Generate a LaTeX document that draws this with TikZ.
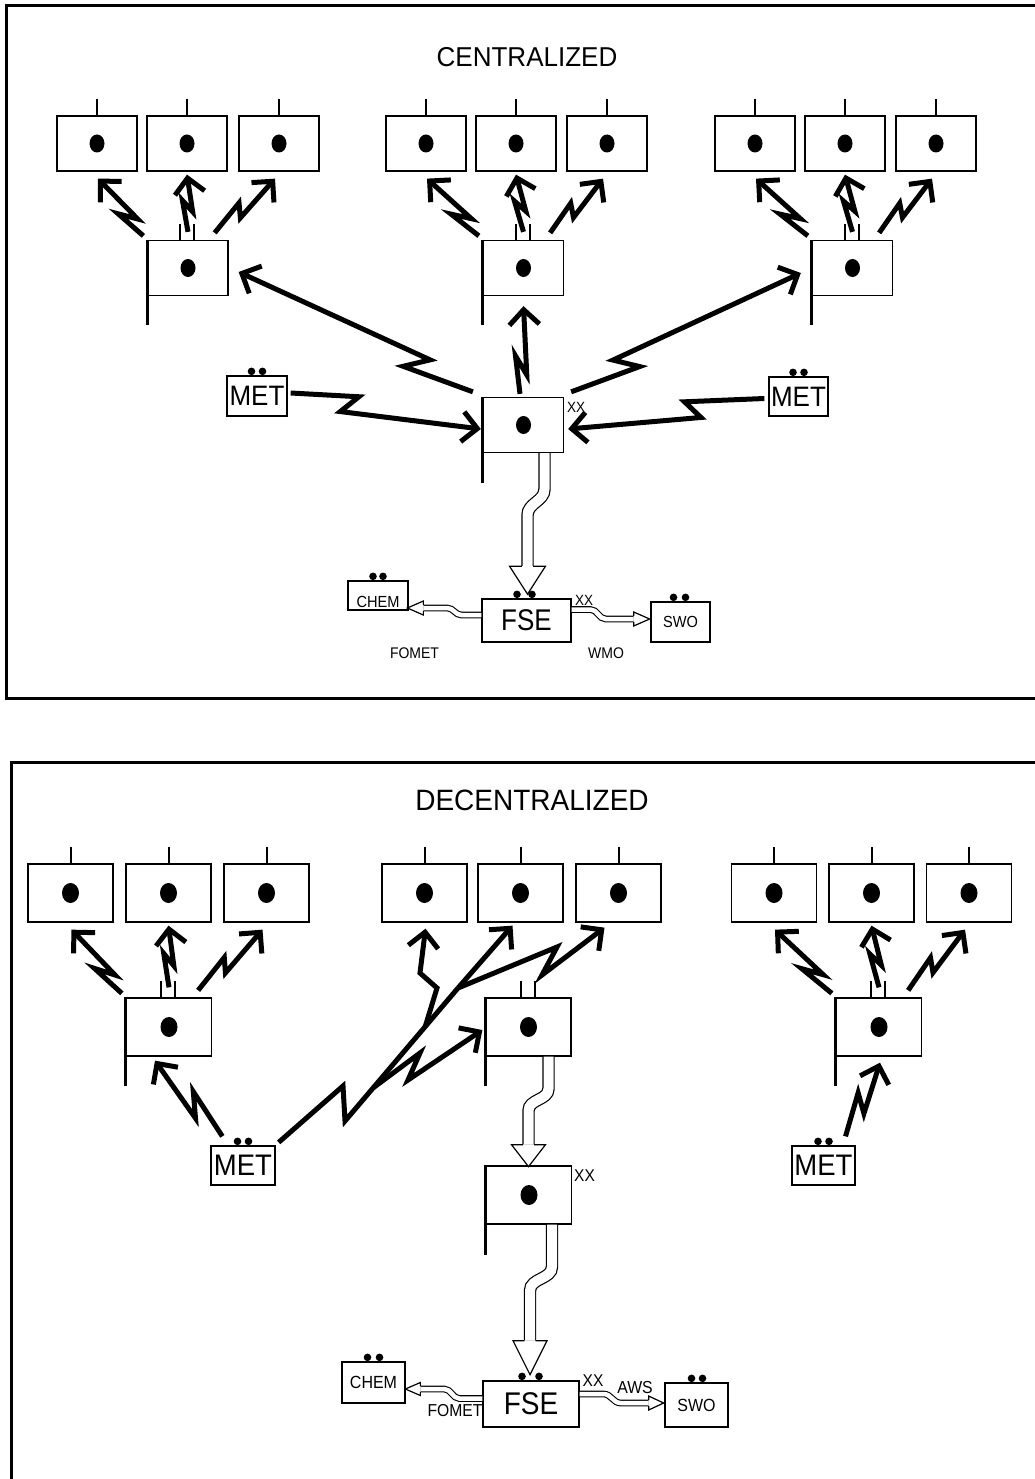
\documentclass[tikz,border=0pt]{standalone}
\usepackage{fontspec}
\setmainfont{Liberation Sans}
\usetikzlibrary{calc,arrows.meta}

% terminal: box, centre dot, antenna on top
\newcommand\term[6]{%
  \node[#4] (#1) at (#2,#3) {};
  \fill (#1.center) ellipse [x radius=#5pt, y radius=#6pt];
  \draw[antenna] (#1.north) -- ++(0,-16);}
% relay station: box, dot, flag pole on the left, two antennas
\newcommand\relay[6]{%
  \node[#4] (#1) at (#2,#3) {};
  \fill (#1.center) ellipse [x radius=#5pt, y radius=#6pt];
  \draw[flagbar] (#1.north west) -- ($(#1.south west)+(0,29)$);
  \draw[antenna] ($(#1.north)+(-8,0)$) -- ++(0,-16);
  \draw[antenna] ($(#1.north)+(6,0)$) -- ++(0,-16);}
% hub station: box, dot, flag pole
\newcommand\hubst[6]{%
  \node[#4] (#1) at (#2,#3) {};
  \fill (#1.center) ellipse [x radius=#5pt, y radius=#6pt];
  \draw[flagbar] (#1.north west) -- ($(#1.south west)+(0,30)$);}
% two small dots above a box
\newcommand\pairdots[3]{%
  \fill ($(#1.north)+(#2,-4)$) circle [radius=3.8pt];
  \fill ($(#1.north)+(#3,-4)$) circle [radius=3.8pt];}
% radio link drawn as a lightning arrow: start, end, t1, t2, kink offset
\newcommand\bolt[5]{%
  \coordinate (bS) at (#1);
  \coordinate (bE) at (#2);
  \draw[radio] (bS) -- ($(bS)!#3!(bE)!#5!90:(bE)$) -- ($(bS)!#4!(bE)!#5!-90:(bE)$) -- (bE);}
% one relay feeding its three terminals
\newcommand\fan[5]{%
  \bolt{$(#1.north west)+(-4,-4)$}{$(#2.south)+(1,7)$}{0.45}{0.23}{6pt}
  \bolt{$(#1.north)+(0,-#5)$}{$(#3.south)+(0,3)$}{0.55}{0.35}{5pt}
  \bolt{$(#1.north east)+(-14,-7)$}{$(#4.south)+(-4,7)$}{0.47}{0.36}{6pt}}
% hollow arrow heads at the end of a ribbon
\newcommand\headdown[3]{%
  \draw[hollowhead] ($(#1)+(-5.6,0)$) -- ($(#1)+(-#2,0)$) -- ($(#1)+(0,#3)$)
    -- ($(#1)+(#2,0)$) -- ($(#1)+(5.6,0)$);}
\newcommand\headleft[3]{%
  \draw[hollowhead] ($(#1)+(0,-2.8)$) -- ($(#1)+(0,-#2)$) -- ($(#1)+(-#3,0)$)
    -- ($(#1)+(0,#2)$) -- ($(#1)+(0,2.8)$);}
\newcommand\headright[3]{%
  \draw[hollowhead] ($(#1)+(0,-2.8)$) -- ($(#1)+(0,-#2)$) -- ($(#1)+(#3,0)$)
    -- ($(#1)+(0,#2)$) -- ($(#1)+(0,2.8)$);}
% tall lettering
\newcommand\tall[2]{\scalebox{1}[#1]{#2}}

\begin{document}
\begin{tikzpicture}[x=1pt,y=-1pt,
  box/.style={draw,line width=1.3pt,inner sep=0pt},
  tbox/.style={box,minimum width=80pt,minimum height=55pt},
  ubox/.style={box,minimum width=85pt,minimum height=58pt},
  antenna/.style={line width=2pt},
  flagbar/.style={line width=3pt},
  radio/.style={line width=5pt,-{Straight Barb[length=15pt,width=30pt]}},
  link/.style={line width=5pt},
  ribbon/.style={line width=1.2pt,double=white,double distance=10pt},
  slimribbon/.style={line width=1.1pt,double=white,double distance=4.5pt},
  hollowhead/.style={line width=1.2pt,fill=white,line join=miter},
  frame/.style={line width=3pt},
  big/.style={font=\fontsize{#1}{#1}\selectfont,inner sep=0pt},
]
\useasboundingbox (0,0) rectangle (1035,1479);
\fill[white] (0,0) rectangle (1035,1479);

% ---------------- centralized ----------------
\draw[frame] (1045,6) -- (6,6) -- (6,698) -- (1045,698);
\node[big=26] (ttl1) at (527,57) {\tall{1.05}{CENTRALIZED}};

\term{t1}{97}{143.5}{tbox}{7.5}{9}
\term{t2}{187}{143.5}{tbox}{7.5}{9}
\term{t3}{279}{143.5}{tbox}{7.5}{9}
\term{t4}{426}{143.5}{tbox}{7.5}{9}
\term{t5}{516}{143.5}{tbox}{7.5}{9}
\term{t6}{607}{143.5}{tbox}{7.5}{9}
\term{t7}{755}{143.5}{tbox}{7.5}{9}
\term{t8}{845}{143.5}{tbox}{7.5}{9}
\term{t9}{936}{143.5}{tbox}{7.5}{9}

\relay{r1}{188}{268}{tbox}{7.5}{9}
\relay{r2}{523.5}{268}{tbox}{7.5}{9}
\relay{r3}{852.5}{268}{tbox}{7.5}{9}

\hubst{hub}{523.5}{425}{tbox}{7.5}{9}
\node[big=13.5] (hubxx) at (576,407.5) {\tall{1.1}{XX}};

\node[box,minimum width=60pt,minimum height=40pt,big=26] (metL) at (257,396) {\tall{1.08}{MET}};
\pairdots{metL}{-5.5}{5.5}
\node[box,minimum width=59pt,minimum height=39pt,big=26] (metR) at (798.5,396.5) {\tall{1.08}{MET}};
\pairdots{metR}{-5.5}{5.5}

\fan{r1}{t1}{t2}{t3}{8}
\fan{r2}{t4}{t5}{t6}{8}
\fan{r3}{t7}{t8}{t9}{8}

\bolt{$(hub.north west)+(-10,-5)$}{$(r1.east)+(10,4)$}{0.28}{0.2}{9pt}
\bolt{$(hub.north)+(-3.5,-3)$}{$(r2.south)+(0,10)$}{0.43}{0.22}{6pt}
\bolt{$(hub.north east)+(7,-5)$}{$(r3.west)+(-11,5)$}{0.28}{0.2}{-9pt}
\bolt{$(metL.east)+(3,-3)$}{$(hub.west)+(-2,4)$}{0.35}{0.27}{9pt}
\bolt{$(metR.west)+(-4,2)$}{$(hub.east)+(4,4)$}{0.4}{0.33}{-9pt}

\node[box,minimum width=89pt,minimum height=43pt,big=26] (fse) at (526.5,620.5) {\tall{1.15}{FSE}};
\pairdots{fse}{-9.5}{5.5}
\node[box,minimum width=60pt,minimum height=29pt] (chem) at (378,595.5) {};
\node[big=14.6] (chemtxt) at ($(chem.center)+(0,6.5)$) {\tall{1.1}{CHEM}};
\pairdots{chem}{-5}{5}
\node[box,minimum width=59pt,minimum height=40pt,big=14.6] (swo) at (680.5,622) {\tall{1.1}{SWO}};
\pairdots{swo}{-7}{5}
\node[big=13.5] (fsexx) at (584,600) {\tall{1.1}{XX}};
\node[big=14] (fomet) at (414.5,653) {\tall{1.1}{FOMET}};
\node[big=14] (wmo) at (606,653) {\tall{1.1}{WMO}};

\draw[ribbon] ($(hub.south)+(21,0)$) -- ++(0,36) to[out=-90,in=90] ++(-17,26) -- ++(0,51) coordinate (ha);
\headdown{ha}{18}{28}
\draw[slimribbon] ($(fse.west)+(0,-5.5)$) -- ++(-20,0) to[out=180,in=0] ++(-14,-7) -- ++(-24,0) coordinate (hb);
\headleft{hb}{7}{16}
\draw[slimribbon] ($(fse.east)+(0,-11)$) -- ++(19,0) to[out=0,in=180] ++(15,9.5) -- ++(28,0) coordinate (hc);
\headright{hc}{7}{16}

% ---------------- decentralized ----------------
\draw[frame] (1045,762) -- (11,762) -- (11,1490);
\node[big=28] (ttl2) at (532,800) {\tall{1.05}{DECENTRALIZED}};

\term{u1}{70.5}{893}{ubox}{8.5}{10}
\term{u2}{168.5}{893}{ubox}{8.5}{10}
\term{u3}{266.5}{893}{ubox}{8.5}{10}
\term{u4}{424.5}{893}{ubox}{8.5}{10}
\term{u5}{520.5}{893}{ubox}{8.5}{10}
\term{u6}{618.5}{893}{ubox}{8.5}{10}
\term{u7}{774}{893}{ubox}{8.5}{10}
\term{u8}{871.5}{893}{ubox}{8.5}{10}
\term{u9}{969}{893}{ubox}{8.5}{10}

\relay{s1}{169}{1027}{ubox}{8.5}{10}
\relay{s2}{528.5}{1027}{ubox}{8.5}{10}
\relay{s3}{879}{1027}{ubox}{8.5}{10}

\hubst{hubB}{529}{1195}{ubox}{8.5}{10}
\node[big=15.5] (hubBxx) at (584.5,1175.5) {\tall{1.1}{XX}};

\node[box,minimum width=64pt,minimum height=39pt,big=27.5] (metBL) at (243,1165.5) {\tall{1.08}{MET}};
\pairdots{metBL}{-5.5}{5.5}
\node[box,minimum width=63pt,minimum height=39pt,big=27.5] (metBR) at (823.5,1165.5) {\tall{1.08}{MET}};
\pairdots{metBR}{-5.5}{5.5}

\fan{s1}{u1}{u2}{u3}{10}
\fan{s3}{u7}{u8}{u9}{10}
\bolt{$(metBL.north west)+(12,-9)$}{$(s1.south)+(-14,4)$}{0.52}{0.31}{-8pt}
\bolt{$(metBR.north)+(22,-9)$}{$(s3.south)+(1,6)$}{0.55}{0.35}{7pt}

% shared link from the left MET towards the middle group
\coordinate (j0) at ($(metBL.north east)+(3,-3)$);
\coordinate (k1) at (343,1086);
\coordinate (k2) at (345,1121);
\coordinate (j3) at (458,988);
\coordinate (j1) at ($(k2)!0.25!(j3)$);
\coordinate (j2) at ($(k2)!0.71!(j3)$);
\draw[link] (j0) -- (k1) -- (k2) -- (j3);
\draw[radio] (j1) -- (420,1053) -- (408,1080) -- ($(s2.west)+(-3,3)$);
\draw[radio] (j2) -- (437,988) -- (420,973) -- ($(u4.south)+(1,6)$);
\draw[radio] (j3) -- ($(u5.south)+(-8,3)$);
\draw[radio] (j3) -- (557,947) -- (542,975) -- ($(u6.south)+(-14,5)$);

\draw[ribbon] ($(s2.south)+(20,0)$) -- ++(0,32) to[out=-90,in=90] ++(-20,22) -- ++(0,34) coordinate (hd);
\headdown{hd}{17}{22}
\draw[ribbon] ($(hubB.south)+(23,0)$) -- ++(0,42) to[out=-90,in=90] ++(-22,24) -- ++(0,50) coordinate (he);
\headdown{he}{17}{34}

\node[box,minimum width=96pt,minimum height=46pt,big=28] (fseB) at (531,1404) {\tall{1.12}{FSE}};
\pairdots{fseB}{-9}{8}
\node[box,minimum width=63pt,minimum height=41pt,big=16] (chemB) at (373.5,1382.5) {\tall{1.1}{CHEM}};
\pairdots{chemB}{-6}{6}
\node[box,minimum width=63pt,minimum height=44pt,big=16] (swoB) at (696.5,1405) {\tall{1.1}{SWO}};
\pairdots{swoB}{-5}{6}
\node[big=15.5] (fseBxx) at (593,1381) {\tall{1.1}{XX}};
\node[big=15.8] (aws) at (635,1387.5) {\tall{1.1}{AWS}};
\node[big=15.7] (fometB) at (455,1410.5) {\tall{1.1}{FOMET}};

\draw[slimribbon] ($(fseB.west)+(0,-5.5)$) -- ++(-23,0) to[out=180,in=0] ++(-15,-9.5) -- ++(-24,0) coordinate (hf);
\headleft{hf}{6.5}{15}
\draw[slimribbon] ($(fseB.east)+(0,-10)$) -- ++(24,0) to[out=0,in=180] ++(17,9) -- ++(28,0) coordinate (hg);
\headright{hg}{7}{15}
\end{tikzpicture}
\end{document}
